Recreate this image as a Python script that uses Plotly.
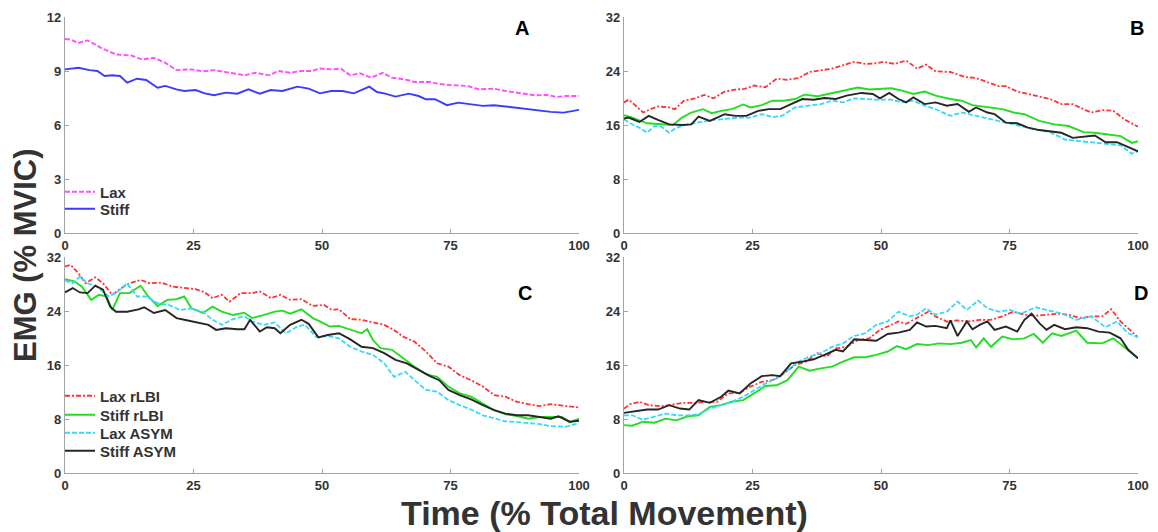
import plotly.graph_objects as go

# ---------------- data (time in % of total movement, EMG in % MVIC) ----------------
# Panel A
a_lax_t = [0, 1.1, 2.6, 4.4, 7, 9.9, 12.9, 15, 17.3, 19.5, 21.7, 24.6, 26.8, 29, 31.3, 33, 35, 37, 39.7, 41.5,
           43.8, 46, 48, 49.6, 51.8, 53.7, 55.5, 57.4, 59.6, 61.8, 63.6, 66.2, 68, 71, 73.2, 76.1, 78.3, 80.5, 83.5, 85.7,
           88.6, 91.5, 93.8, 95.6, 97.4, 100]
a_lax_v = [10.78, 10.75, 10.56, 10.7, 10.29, 9.92, 9.86, 9.64, 9.73, 9.46, 9.05, 9.09, 8.98, 9.05, 8.94, 8.87, 8.76, 8.9, 8.76, 9.0,
           8.9, 9.0, 9.0, 9.14, 9.09, 9.12, 8.76, 8.87, 8.63, 8.9, 8.63, 8.53, 8.39, 8.39, 8.26, 8.2, 8.17, 7.98, 8.02, 7.89,
           7.76, 7.65, 7.67, 7.56, 7.61, 7.61]
a_stiff_t = [0, 2.6, 4.8, 6.3, 7.7, 9.2, 10.7, 12.1, 14, 15.8, 18, 19.5, 21.7, 23.2, 25.4, 27.2, 29, 31.3, 33.5, 35.7,
             37.9, 40, 42.3, 45.2, 47.4, 49.6, 51.8, 54, 56.2, 59.2, 60.7, 62.1, 64.3, 66.9, 68.8, 70.2, 72, 74.3, 76.5, 79,
             81.3, 83.5, 85.7, 88.6, 91.5, 94.5, 97, 100]
a_stiff_v = [9.09, 9.18, 9.05, 9.0, 8.72, 8.76, 8.72, 8.35, 8.57, 8.5, 8.07, 8.17, 7.98, 7.89, 7.94, 7.76, 7.65, 7.8, 7.74, 7.98,
             7.74, 7.94, 7.89, 8.13, 8.02, 7.76, 7.89, 7.89, 7.76, 8.13, 7.83, 7.76, 7.58, 7.74, 7.61, 7.43, 7.43, 7.1, 7.24, 7.15,
             7.06, 7.1, 7.02, 6.91, 6.84, 6.73, 6.69, 6.84]

# Panel B
b_lax_rlbi_t = [0, 0.9, 2.3, 3.7, 5.2, 6.6, 8.8, 9.9, 11.7, 13.8, 15.6, 17.4, 19.6, 21.7, 23.5, 25.3, 27.5, 29.7, 31.8, 34,
                36.1, 38.3, 40.5, 42.6, 44.8, 46.9, 49.1, 50.5, 52.7, 54.9, 57, 58.8, 60.6, 63.5, 66.4, 68.5, 70.7, 72.9, 74.3, 76.5,
                78.6, 80.8, 82.9, 85.1, 87.3, 89.4, 90.9, 93, 95.2, 97.3, 100]
b_lax_rlbi_v = [19.35, 19.75, 18.85, 17.85, 18.35, 18.75, 18.6, 18.35, 19.6, 19.95, 20.45, 19.95, 20.95, 21.25, 21.35, 21.85, 21.6, 22.85, 22.7, 22.95,
                23.85, 24.1, 24.35, 24.85, 25.35, 25.05, 25.15, 25.35, 25.05, 25.55, 24.35, 24.95, 23.95, 23.85, 23.1, 22.95, 22.35, 21.75, 21.75, 20.95,
                20.6, 20.25, 19.85, 19.1, 19.1, 18.35, 17.85, 18.2, 18.1, 16.85, 15.75]
b_stiff_rlbi_t = [0, 1.6, 4.5, 6.6, 9.5, 11.3, 13.1, 15.3, 17.1, 18.9, 21, 23.2, 24.6, 26.8, 28.9, 31.1, 33.3, 35.1, 37.6, 39.7,
                  41.9, 44.1, 45.5, 47.7, 49.8, 52, 54.1, 56.3, 58.5, 60.6, 63.5, 65.7, 67.8, 70.7, 73.6, 75.8, 77.9, 80.8, 83.7, 86.5,
                  89.4, 91.6, 93.7, 96.6, 98.8, 100]
b_stiff_rlbi_v = [17.45, 17.1, 16.25, 16.1, 16.0, 17.1, 17.85, 18.35, 17.75, 18.1, 18.35, 19.05, 18.6, 18.95, 19.6, 19.6, 19.85, 20.5, 20.25, 20.6,
                  20.95, 21.35, 21.55, 21.25, 21.35, 21.45, 21.1, 20.6, 20.95, 20.35, 19.85, 19.6, 18.95, 18.6, 18.35, 17.85, 17.6, 16.6, 16.1, 15.85,
                  14.95, 14.85, 14.6, 14.35, 13.35, 13.6]
b_lax_asym_t = [0, 1.2, 3, 4.5, 5.9, 7.3, 8.8, 10.2, 12.4, 14.5, 17.4, 20.3, 22.5, 24.6, 26.8, 28.9, 30.7, 33.3, 35.4, 38.3,
                40.5, 42.6, 44.8, 46.9, 49.1, 52, 54.1, 56.3, 58.5, 60.6, 63.5, 65.7, 68.5, 71.4, 74.3, 77.2, 80, 82.9, 85.8, 88.7,
                91.6, 94.5, 96.6, 98.8, 100]
b_lax_asym_v = [16.85, 16.25, 15.6, 14.85, 15.85, 15.75, 14.85, 15.6, 16.1, 16.35, 16.75, 16.95, 17.1, 17.1, 17.6, 17.2, 17.35, 18.6, 18.85, 19.1,
                19.6, 19.35, 19.95, 19.85, 19.75, 19.75, 19.35, 19.6, 18.85, 18.35, 17.35, 17.85, 17.35, 16.85, 16.35, 15.75, 15.35, 14.95, 13.85, 13.6,
                13.35, 13.1, 13.0, 11.75, 12.1]
b_stiff_asym_t = [0, 0.9, 3, 4.8, 6.6, 8.8, 11.3, 13.1, 14.5, 16.7, 19.6, 21.7, 23.8, 26.1, 28.2, 30.4, 32.5, 34.7, 36.9, 39,
                  41.2, 43.3, 46.2, 48.4, 49.8, 51.6, 53.4, 54.9, 56.3, 58.5, 60.6, 62.8, 64.9, 67.1, 68.5, 70.7, 72.1, 74.3, 76.5, 78.6,
                  80.8, 82.9, 85.1, 87.3, 89.4, 91.6, 93.7, 95.9, 97.8, 100]
b_stiff_asym_v = [16.95, 17.1, 16.45, 17.35, 16.75, 16.1, 16.0, 16.1, 17.25, 16.6, 17.6, 17.35, 17.35, 18.1, 18.35, 18.35, 19.1, 19.85, 19.75, 20.0,
                  19.85, 20.35, 20.75, 20.6, 19.95, 20.75, 19.85, 19.35, 20.1, 19.1, 19.35, 18.85, 19.1, 17.95, 18.6, 17.85, 17.6, 16.35, 16.25, 15.6,
                  15.25, 15.1, 14.85, 14.1, 14.25, 14.45, 13.45, 13.45, 12.85, 12.1]

# Panel C
c_lax_rlbi_t = [0, 1.1, 2.6, 4, 5.9, 7.4, 9.2, 10.7, 12.5, 14.7, 16.5, 18.8, 21, 23.2, 25.4, 27.2, 28.7, 30.5, 32, 34.2,
                36.4, 37.9, 40.1, 41.9, 43.8, 46, 48.2, 50.4, 51.8, 53.3, 55.5, 57.7, 59.9, 62.1, 64, 65.8, 68, 70.2, 72.4, 74.6,
                76.8, 79, 81.3, 83.5, 85.7, 87.9, 90.1, 92.3, 94.5, 97.4, 100]
c_lax_rlbi_v = [30.6, 30.85, 29.6, 28.1, 29.0, 28.1, 26.4, 27.25, 28.1, 28.6, 28.1, 28.2, 27.6, 27.4, 27.25, 26.75, 25.9, 26.4, 25.4, 26.65,
                26.65, 26.9, 25.9, 26.4, 25.65, 25.75, 24.75, 24.9, 24.2, 24.25, 22.8, 22.7, 22.3, 21.95, 21.2, 20.2, 19.45, 18.0, 16.25, 15.75,
                14.5, 13.75, 12.8, 11.55, 11.3, 10.55, 10.2, 9.9, 10.2, 9.9, 9.7]
c_stiff_rlbi_t = [0, 1.8, 3.3, 5.1, 6.6, 8.1, 9.2, 10.7, 12.5, 14.7, 16.2, 18, 19.9, 21.7, 23.2, 24.6, 26.8, 28.7, 30.5, 32.7,
                  34.9, 36.4, 38.6, 40.8, 42.3, 43.8, 46, 48.2, 49.6, 51.5, 53.3, 55.5, 57.7, 58.8, 59.9, 61.4, 63.6, 65.8, 68, 70.2,
                  72.4, 74.6, 76.8, 79, 81.3, 83.5, 85.7, 87.9, 90.1, 92.3, 94.5, 96.7, 98.2, 100]
c_stiff_rlbi_v = [28.7, 28.4, 27.6, 25.65, 26.4, 26.15, 24.15, 26.65, 26.65, 27.75, 26.15, 24.75, 25.65, 25.75, 26.15, 24.4, 23.7, 24.65, 23.9, 23.4,
                  23.75, 22.95, 23.4, 23.9, 24.05, 23.6, 24.25, 22.95, 22.45, 21.7, 21.8, 21.3, 20.7, 21.3, 19.7, 18.5, 18.25, 17.0, 15.75, 14.65,
                  14.25, 12.8, 11.8, 11.3, 10.3, 9.3, 8.7, 8.45, 8.05, 8.3, 8.3, 8.3, 7.5, 8.05]
c_lax_asym_t = [0, 1.5, 2.9, 4.4, 6.2, 8.5, 10.3, 12.1, 14, 15.8, 18, 20.2, 22.4, 24.6, 26.8, 28.7, 30.5, 32.7, 34.9, 36.4,
                38.6, 40.8, 43, 45.2, 46.7, 48.9, 51.1, 53.3, 55.5, 57.7, 59.9, 62.1, 64, 66.2, 68, 70.2, 72.4, 74.6, 76.8, 79,
                81.3, 83.5, 85.7, 87.9, 90.1, 92.3, 94.5, 97.4, 100]
c_lax_asym_v = [28.5, 28.1, 29.1, 28.1, 27.6, 26.15, 26.9, 28.1, 26.15, 26.15, 25.15, 24.9, 24.15, 24.4, 23.9, 22.7, 21.95, 22.8, 23.2, 22.45,
                21.95, 22.3, 20.7, 21.7, 21.95, 20.1, 20.3, 19.95, 18.7, 18.0, 17.5, 16.25, 14.25, 15.0, 13.75, 12.3, 12.05, 10.8, 10.05, 9.4,
                8.55, 8.05, 7.65, 7.55, 7.45, 7.25, 6.95, 6.85, 7.35]
c_stiff_asym_t = [0, 1.5, 2.9, 4.4, 5.9, 7.4, 8.8, 9.9, 12.1, 14.3, 15.4, 17.3, 19.5, 21.7, 23.9, 25.7, 27.9, 29.4, 31.3, 33.5,
                  34.9, 36, 37.9, 39.3, 40.8, 41.9, 43.8, 46, 47.4, 49.3, 51.1, 53.3, 55.5, 57.7, 59.9, 62.1, 64.3, 66.5, 68.8, 71,
                  72.8, 74.6, 76.8, 79, 81.3, 83.5, 85.7, 87.9, 90.1, 92.3, 94.5, 96, 98.2, 100]
c_stiff_asym_v = [26.75, 27.4, 26.75, 26.65, 27.75, 27.15, 24.65, 23.9, 23.9, 24.25, 24.55, 23.7, 24.15, 22.95, 22.6, 22.3, 21.95, 21.2, 21.45, 21.3,
                  21.3, 22.7, 20.95, 21.6, 21.45, 20.7, 21.95, 22.7, 22.1, 20.1, 20.45, 20.7, 19.8, 18.7, 18.5, 17.75, 16.75, 16.25, 15.25, 14.35,
                  13.75, 12.3, 11.55, 10.9, 10.05, 9.3, 8.8, 8.55, 8.55, 8.3, 8.05, 8.4, 7.6, 7.75]

# Panel D
d_lax_rlbi_t = [0, 1.2, 3, 4.8, 7.3, 9.5, 11.7, 13.8, 16, 18.1, 20.3, 22.5, 24.6, 26.8, 28.9, 31.1, 33.3, 35.4, 37.6, 39.4,
                41.2, 43.3, 45.5, 47.7, 49.8, 52, 53.4, 54.9, 57, 59.2, 60.6, 62.8, 64.9, 67.1, 69.2, 71.4, 73.6, 75.7, 77.9, 80.1,
                82.2, 84.4, 86.5, 88.7, 90.9, 93, 94.8, 96.6, 98.8, 100]
d_lax_rlbi_v = [9.55, 10.2, 10.55, 10.05, 9.9, 10.2, 10.4, 10.4, 10.55, 10.55, 11.8, 11.9, 12.8, 13.5, 13.75, 14.75, 16.0, 16.5, 17.75, 17.25,
                18.45, 18.7, 19.7, 19.95, 21.2, 21.95, 22.45, 22.1, 22.95, 23.9, 23.2, 22.45, 22.6, 22.45, 22.7, 22.7, 23.2, 23.9, 23.45, 23.3,
                23.45, 23.6, 23.45, 22.95, 23.2, 23.2, 24.25, 22.45, 20.95, 20.1]
d_stiff_rlbi_t = [0, 1.6, 3.7, 5.9, 8.1, 10.2, 12.4, 14.5, 16.7, 18.9, 21, 23.2, 25.3, 27.5, 29.7, 31.8, 34, 36.1, 38.3, 40.5,
                  42.6, 44.8, 46.9, 49.1, 51.3, 53.1, 54.9, 57, 59.2, 61.3, 63.5, 65.7, 67.5, 68.5, 70, 71.4, 73.6, 75.7, 77.9, 79.7,
                  81.5, 83.3, 85.1, 88, 90.1, 93, 95.2, 97.3, 100]
d_stiff_rlbi_v = [7.1, 7.0, 7.6, 7.45, 8.05, 7.8, 8.4, 8.55, 9.8, 10.05, 10.55, 10.8, 11.8, 12.9, 13.0, 13.75, 15.75, 15.15, 15.5, 15.75,
                  16.5, 17.15, 17.15, 17.5, 18.0, 18.8, 18.35, 19.1, 18.95, 19.2, 19.1, 19.3, 19.7, 18.6, 19.95, 18.7, 20.2, 19.8, 19.95, 20.6,
                  19.3, 20.7, 20.3, 21.1, 19.3, 19.2, 19.95, 18.7, 17.0]
d_lax_asym_t = [0, 1.6, 3.7, 5.9, 8.1, 10.2, 12.4, 14.5, 16.7, 18.9, 21, 23.2, 25.3, 27.5, 29.7, 31.8, 34, 36.1, 38.3, 40.5,
                42.6, 44.8, 46.9, 49.1, 51.3, 53.4, 55.6, 57, 58.8, 60.6, 62.8, 64.9, 66.7, 68.9, 70.7, 72.9, 75, 77.2, 80.1, 82.2,
                85.1, 88, 90.9, 93.7, 95.9, 98.1, 100]
d_lax_asym_v = [8.55, 8.55, 7.9, 8.3, 8.8, 8.55, 8.55, 8.7, 9.55, 10.05, 10.55, 11.3, 12.3, 13.25, 14.0, 15.25, 16.5, 17.25, 17.75, 18.7,
                19.2, 20.3, 20.7, 21.95, 22.45, 23.9, 23.2, 23.45, 24.4, 23.45, 23.9, 25.4, 24.15, 25.55, 24.4, 23.9, 24.15, 23.6, 24.55, 24.15,
                23.65, 22.7, 23.2, 21.6, 22.45, 20.7, 20.1]
d_stiff_asym_t = [0, 2.3, 4.5, 6.6, 8.8, 10.9, 12.7, 14.5, 16.7, 18.9, 20.3, 22.5, 24.6, 26.8, 28.9, 30.4, 32.5, 34.7, 36.9, 39,
                  41.2, 42.6, 44.8, 46.9, 49.1, 51.3, 53.4, 55.6, 57, 58.8, 60.6, 62.8, 63.5, 64.9, 66.7, 67.8, 69.2, 70.7, 72.1, 74.3,
                  76.5, 77.9, 79.3, 80.8, 82.2, 83.7, 85.8, 88, 90.1, 92.3, 94.5, 96.6, 98.1, 100]
d_stiff_asym_v = [8.9, 9.2, 9.4, 9.4, 10.05, 9.55, 9.4, 10.8, 10.4, 11.3, 12.2, 11.8, 13.25, 14.35, 14.5, 14.35, 16.25, 16.5, 16.85, 17.5,
                  18.25, 18.0, 19.8, 19.7, 19.6, 20.6, 20.8, 21.2, 22.3, 21.7, 21.8, 21.45, 22.6, 20.3, 22.45, 21.3, 21.95, 22.45, 21.2, 21.7,
                  20.95, 22.7, 23.6, 22.2, 21.2, 21.95, 21.3, 21.6, 21.45, 20.95, 20.8, 19.95, 18.25, 17.0]

x_ticks = [0, 25, 50, 75, 100]
a_y_ticks = [0, 3, 6, 9, 12]
bcd_y_ticks = [0, 8, 16, 24, 32]
panel_letters = ["A", "B", "C", "D"]

# ---------------- styles ----------------
FONT = "Liberation Sans, Arial, sans-serif"
AXIS_GREY = "#a3a3a3"
TEXT_GREY = "#333333"

STYLE = {
    "Lax": dict(color="#ff4dff", dash="5px,2px", width=1.9),
    "Stiff": dict(color="#3b3bff", dash="solid", width=1.9),
    "Lax rLBI": dict(color="#ff3333", dash="5px,2px,2px,2px", width=1.8),
    "Stiff rLBI": dict(color="#22dd22", dash="solid", width=1.9),
    "Lax ASYM": dict(color="#33d9ff", dash="5px,2px", width=1.8),
    "Stiff ASYM": dict(color="#262626", dash="solid", width=1.9),
}

W, H = 1158, 532
fig = go.Figure()


def add(t, v, name, xa, ya, legend=None):
    fig.add_trace(go.Scatter(
        x=t, y=v, name=name, mode="lines", xaxis=xa, yaxis=ya,
        line=STYLE[name], showlegend=legend is not None,
        legend=legend if legend else "legend",
    ))


# Panel A (x / y) -- one single-entry legend per series so rows can be spaced freely
add(a_lax_t, a_lax_v, "Lax", "x", "y", "legend")
add(a_stiff_t, a_stiff_v, "Stiff", "x", "y", "legend2")
# Panel B (x2 / y2)
add(b_lax_rlbi_t, b_lax_rlbi_v, "Lax rLBI", "x2", "y2")
add(b_stiff_rlbi_t, b_stiff_rlbi_v, "Stiff rLBI", "x2", "y2")
add(b_lax_asym_t, b_lax_asym_v, "Lax ASYM", "x2", "y2")
add(b_stiff_asym_t, b_stiff_asym_v, "Stiff ASYM", "x2", "y2")
# Panel C (x3 / y3)
add(c_lax_rlbi_t, c_lax_rlbi_v, "Lax rLBI", "x3", "y3", "legend3")
add(c_stiff_rlbi_t, c_stiff_rlbi_v, "Stiff rLBI", "x3", "y3", "legend4")
add(c_lax_asym_t, c_lax_asym_v, "Lax ASYM", "x3", "y3", "legend5")
add(c_stiff_asym_t, c_stiff_asym_v, "Stiff ASYM", "x3", "y3", "legend6")
# Panel D (x4 / y4)
add(d_lax_rlbi_t, d_lax_rlbi_v, "Lax rLBI", "x4", "y4")
add(d_stiff_rlbi_t, d_stiff_rlbi_v, "Stiff rLBI", "x4", "y4")
add(d_lax_asym_t, d_lax_asym_v, "Lax ASYM", "x4", "y4")
add(d_stiff_asym_t, d_stiff_asym_v, "Stiff ASYM", "x4", "y4")

left_dom = [65 / W, 579 / W]
right_dom = [624 / W, 1138 / W]
top_dom = [1 - 233 / H, 1 - 17 / H]
bot_dom = [1 - 473 / H, 1 - 257 / H]

tick_font = dict(family=FONT, size=13, color=TEXT_GREY, weight="bold")


def x_axis(domain, anchor):
    return dict(domain=domain, anchor=anchor, range=[0, 100], tickvals=x_ticks,
                showline=True, linecolor=AXIS_GREY, linewidth=1.3, ticks="inside",
                ticklen=4, tickcolor=AXIS_GREY, showgrid=False, zeroline=False,
                tickfont=tick_font, automargin=False)


def y_axis(domain, anchor, rng, ticks):
    return dict(domain=domain, anchor=anchor, range=rng, tickvals=ticks,
                showline=True, linecolor=AXIS_GREY, linewidth=1.3, ticks="inside",
                ticklen=4, tickcolor=AXIS_GREY, showgrid=False, zeroline=False,
                tickfont=tick_font, automargin=False)


def legend_at(px_y):
    return dict(x=60 / W, y=1 - px_y / H, xanchor="left", yanchor="middle",
                font=dict(family=FONT, size=15, color=TEXT_GREY, weight="bold"),
                bgcolor="rgba(0,0,0,0)", borderwidth=0, itemwidth=30)


letter_font = dict(family=FONT, size=20, color="#000000", weight="bold")


def letter(text, px_x, px_y):
    return dict(text=text, x=px_x / W, y=1 - px_y / H, xref="paper", yref="paper",
                xanchor="center", yanchor="middle", showarrow=False, font=letter_font)


fig.update_layout(
    width=W, height=H,
    margin=dict(l=0, r=0, t=0, b=0, autoexpand=False),
    paper_bgcolor="white", plot_bgcolor="white",
    font=dict(family=FONT, color=TEXT_GREY),
    xaxis=x_axis(left_dom, "y"),
    yaxis=y_axis(top_dom, "x", [0, 12], a_y_ticks),
    xaxis2=x_axis(right_dom, "y2"),
    yaxis2=y_axis(top_dom, "x2", [0, 32], bcd_y_ticks),
    xaxis3=x_axis(left_dom, "y3"),
    yaxis3=y_axis(bot_dom, "x3", [0, 32], bcd_y_ticks),
    xaxis4=x_axis(right_dom, "y4"),
    yaxis4=y_axis(bot_dom, "x4", [0, 32], bcd_y_ticks),
    legend=legend_at(192),
    legend2=legend_at(209),
    legend3=legend_at(396),
    legend4=legend_at(415),
    legend5=legend_at(433),
    legend6=legend_at(451),
    annotations=[
        letter(panel_letters[0], 522, 28),
        letter(panel_letters[1], 1137, 28),
        letter(panel_letters[2], 525, 293),
        letter(panel_letters[3], 1141, 293),
        dict(text="EMG (% MVIC)", x=25 / W, y=1 - 255 / H, xref="paper", yref="paper",
             xanchor="center", yanchor="middle", showarrow=False, textangle=-90,
             font=dict(family=FONT, size=31, color=TEXT_GREY, weight="bold")),
        dict(text="Time (% Total Movement)", x=604 / W, y=1 - 513 / H, xref="paper", yref="paper",
             xanchor="center", yanchor="middle", showarrow=False,
             font=dict(family=FONT, size=34, color=TEXT_GREY, weight="bold")),
    ],
)

# page without body margin so the figure fills the window exactly
fig.write_html(
    "out.html",
    post_script="document.body.style.margin='0';document.body.style.overflow='hidden';"
                "document.documentElement.style.overflow='hidden';",
)
